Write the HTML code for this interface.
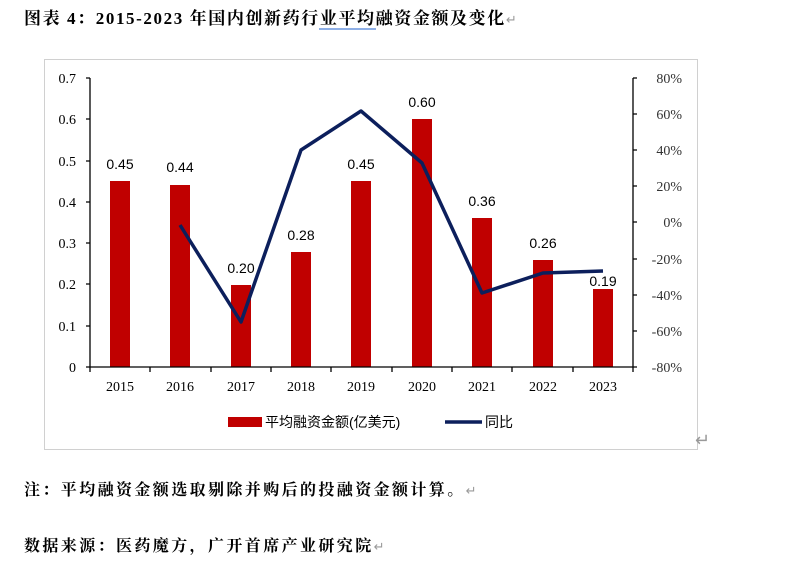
<!DOCTYPE html>
<html><head><meta charset="utf-8"><style>
html,body{margin:0;padding:0;background:#fff;width:800px;height:565px;overflow:hidden}
svg{display:block}
</style></head><body>
<svg width="800" height="565" xmlns="http://www.w3.org/2000/svg">
<text x="24" y="24" font-family="Liberation Serif, Noto Serif CJK SC, serif" font-size="17" font-weight="bold" letter-spacing="1.6" fill="#000">图表 4：2015-2023 年国内创新药行业平均融资金额及变化<tspan fill="#999" font-size="13" font-weight="normal">↵</tspan></text>
<line x1="319" y1="29" x2="376" y2="29" stroke="#4a7fd8" stroke-width="1.2"/>
<rect x="44.5" y="59.5" width="653" height="390" fill="none" stroke="#d0d0d0"/>
<g font-family="Liberation Serif, serif" font-size="14" fill="#000">
<g text-anchor="end">
<text x="76" y="83">0.7</text><text x="76" y="124">0.6</text><text x="76" y="166">0.5</text><text x="76" y="207">0.4</text><text x="76" y="248">0.3</text><text x="76" y="289">0.2</text><text x="76" y="331">0.1</text><text x="76" y="372">0</text>
</g>
<g text-anchor="end" fill="#333">
<text x="682" y="83">80%</text><text x="682" y="119">60%</text><text x="682" y="155">40%</text><text x="682" y="191">20%</text><text x="682" y="227">0%</text><text x="682" y="264">-20%</text><text x="682" y="300">-40%</text><text x="682" y="336">-60%</text><text x="682" y="372">-80%</text>
</g>
<g text-anchor="middle">
<text x="120" y="391">2015</text><text x="180" y="391">2016</text><text x="241" y="391">2017</text><text x="301" y="391">2018</text><text x="361" y="391">2019</text><text x="422" y="391">2020</text><text x="482" y="391">2021</text><text x="543" y="391">2022</text><text x="603" y="391">2023</text>
</g>
</g>
<g fill="#c00000">
<rect x="110" y="181" width="20" height="186"/>
<rect x="170" y="185" width="20" height="182"/>
<rect x="231" y="285" width="20" height="82"/>
<rect x="291" y="252" width="20" height="115"/>
<rect x="351" y="181" width="20" height="186"/>
<rect x="412" y="119" width="20" height="248"/>
<rect x="472" y="218" width="20" height="149"/>
<rect x="533" y="260" width="20" height="107"/>
<rect x="593" y="289" width="20" height="78"/>
</g>
<g stroke="#000" stroke-width="1.3" fill="none">
<line x1="90" y1="367" x2="633" y2="367"/>
<line x1="90" y1="78" x2="90" y2="367"/>
<line x1="633" y1="78" x2="633" y2="367"/>
<path d="M86 78H90M86 119H90M86 161H90M86 202H90M86 243H90M86 284H90M86 326H90M86 367H90"/>
<path d="M633 78H637M633 114H637M633 150H637M633 186H637M633 222H637M633 259H637M633 295H637M633 331H637M633 367H637"/>
<path d="M90 367V372M150 367V372M211 367V372M271 367V372M331 367V372M392 367V372M452 367V372M512 367V372M573 367V372M633 367V372"/>
</g>
<polyline points="180,225 241,322 301,150 361,111 422,163 482,293 543,273 603,271" fill="none" stroke="#0c1f5c" stroke-width="3.5" stroke-linejoin="round"/>
<g font-family="Liberation Sans, sans-serif" font-size="14" fill="#000" text-anchor="middle">
<text x="120" y="169">0.45</text><text x="180" y="172">0.44</text><text x="241" y="273">0.20</text><text x="301" y="240">0.28</text><text x="361" y="169">0.45</text><text x="422" y="107">0.60</text><text x="482" y="206">0.36</text><text x="543" y="248">0.26</text><text x="603" y="286">0.19</text>
</g>
<rect x="228" y="417" width="34" height="10" fill="#c00000"/>
<text x="265" y="427" font-family="Liberation Sans, Noto Sans CJK SC, sans-serif" font-size="14">平均融资金额(亿美元)</text>
<line x1="445" y1="422" x2="482" y2="422" stroke="#0c1f5c" stroke-width="3.5"/>
<text x="485" y="427" font-family="Liberation Sans, Noto Sans CJK SC, sans-serif" font-size="14">同比</text>
<text x="695" y="446" font-family="Liberation Sans, sans-serif" font-size="18" fill="#999">↵</text>
<text x="24" y="495" font-family="Liberation Serif, Noto Serif CJK SC, serif" font-size="16" font-weight="bold" letter-spacing="2.4">注：平均融资金额选取剔除并购后的投融资金额计算。<tspan fill="#999" font-size="13" font-weight="normal">↵</tspan></text>
<text x="24" y="551" font-family="Liberation Serif, Noto Serif CJK SC, serif" font-size="16" font-weight="bold" letter-spacing="2.4">数据来源：医药魔方，广开首席产业研究院<tspan fill="#999" font-size="13" font-weight="normal">↵</tspan></text>
</svg>
</body></html>
